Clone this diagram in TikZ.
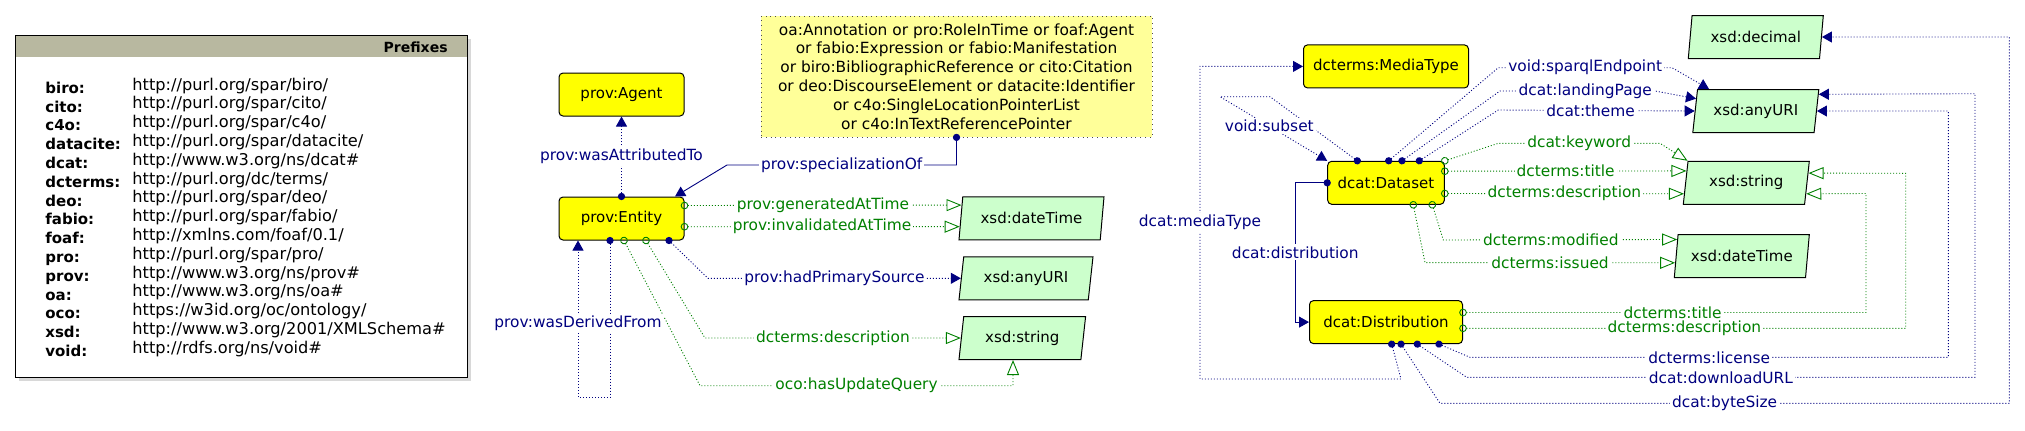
\documentclass[tikz,border=0pt]{standalone}
\usepackage{fontspec}
\setmainfont{DejaVu Sans}
\usepackage{xcolor}
\usepackage{tikz}
\usetikzlibrary{arrows.meta,positioning,shapes.geometric,calc,shadows}

\definecolor{propblue}{HTML}{000080}
\definecolor{propgreen}{HTML}{008000}
\definecolor{classyellow}{HTML}{FFFF00}
\definecolor{literalgreen}{HTML}{CCFFCC}
\definecolor{noteyellow}{HTML}{FFFF99}
\definecolor{headkhaki}{HTML}{B8B8A0}

\newcommand{\pfxrow}[2]{{\fontsize{7.5}{9.4}\selectfont\bfseries #1:} & \raisebox{1.6pt}[0pt][0pt]{#2}\\}

\begin{document}
\begin{tikzpicture}[x=0.5pt, y=-0.5pt,
  font=\fontsize{7.5}{9.45}\selectfont,
  cls/.style ={draw, line width=0.5pt, fill=classyellow, rounded corners=2pt,
               minimum height=21.5pt, inner sep=0pt},
  lit/.style ={draw, line width=0.5pt, fill=literalgreen, trapezium,
               trapezium left angle=72, trapezium right angle=108,
               trapezium stretches body, minimum height=21.5pt, inner sep=0pt},
  note/.style={draw=black!70, dotted, fill=noteyellow, align=center,
               font=\fontsize{7.7}{9.45}\selectfont,
               minimum width=195.5pt, minimum height=60.5pt},
  obj/.style ={propblue, line width=0.45pt, dash pattern=on 0.5pt off 1pt,
               {Circle[length=3.6pt]}-{Triangle[length=5pt,width=5.5pt]},
               shorten <=-1.8pt},
  objsolid/.style={obj, solid},
  dat/.style ={propgreen, line width=0.45pt, dash pattern=on 0.5pt off 1pt,
               {Circle[open,length=3.8pt]}-{Triangle[open,length=7.5pt,width=6pt]},
               shorten <=-1.9pt},
  olbl/.style={text=propblue, fill=white, inner sep=1pt, font=\fontsize{7.7}{9}\selectfont},
  dlbl/.style={text=propgreen, fill=white, inner sep=1pt, font=\fontsize{7.7}{9}\selectfont}]
\useasboundingbox (0,0) rectangle (2025,430);

% prefixes
\node[draw, line width=0.5pt, fill=white, minimum width=226pt, minimum height=171pt,
      drop shadow={shadow xshift=2pt, shadow yshift=-2pt, fill=black!30},
      path picture={\fill[headkhaki] (path picture bounding box.north west)
        rectangle ([yshift=-11pt]path picture bounding box.north east);}]
  (prefixes) at (241,206) {};
\node[anchor=east, inner sep=0pt, font=\fontsize{7}{8}\selectfont\bfseries] (prefhead) at (448,47) {Prefixes};
\node[anchor=base west, inner sep=0pt, font=\fontsize{8.1}{9.4}\selectfont] (preflist) at (45,93.3) {%
  \begin{tabular}[t]{@{}p{43.5pt}@{}l@{}}
  \pfxrow{biro}{http://purl.org/spar/biro/}
  \pfxrow{cito}{http://purl.org/spar/cito/}
  \pfxrow{c4o}{http://purl.org/spar/c4o/}
  \pfxrow{datacite}{http://purl.org/spar/datacite/}
  \pfxrow{dcat}{http://www.w3.org/ns/dcat\#}
  \pfxrow{dcterms}{http://purl.org/dc/terms/}
  \pfxrow{deo}{http://purl.org/spar/deo/}
  \pfxrow{fabio}{http://purl.org/spar/fabio/}
  \pfxrow{foaf}{http://xmlns.com/foaf/0.1/}
  \pfxrow{pro}{http://purl.org/spar/pro/}
  \pfxrow{prov}{http://www.w3.org/ns/prov\#}
  \pfxrow{oa}{http://www.w3.org/ns/oa\#}
  \pfxrow{oco}{https://w3id.org/oc/ontology/}
  \pfxrow{xsd}{http://www.w3.org/2001/XMLSchema\#}
  \pfxrow{void}{http://rdfs.org/ns/void\#}
  \end{tabular}};

% entity side
\node[cls, minimum width=62.5pt] (entity) at (621.5,218.5) {prov:Entity};
\node[cls, minimum width=62.5pt, above=40pt of entity] (agent) {prov:Agent};
\node[note] (note) at (956.5,76.5) {oa:Annotation or pro:RoleInTime or foaf:Agent\\
  or fabio:Expression or fabio:Manifestation\\
  or biro:BibliographicReference or cito:Citation\\
  or deo:DiscourseElement or datacite:Identifier\\
  or c4o:SingleLocationPointerList\\
  or c4o:InTextReferencePointer};
\node[lit, minimum width=72.5pt] (dtleft) at (1031.5,218.3) {xsd:dateTime};
\node[lit, minimum width=67pt] (urileft) at (1026,278.3) {xsd:anyURI};
\node[lit, minimum width=63.3pt] (strleft) at (1022.3,338) {xsd:string};

% dataset side
\node[cls, minimum width=58.3pt] (dataset) at (1386,182.8) {dcat:Dataset};
\node[cls, minimum width=82.5pt, above=36.2pt of dataset] (mediatype) {dcterms:MediaType};
\node[cls, minimum width=76.5pt, below=47.65pt of dataset] (distribution) {dcat:Distribution};
\node[lit, minimum width=67.5pt] (decimal) at (1755.8,37) {xsd:decimal};
\node[lit, minimum width=63pt, below=15pt of decimal] (uriright) {xsd:anyURI};
\node[lit, minimum width=63pt] (stringright) at (1746.3,182.8) {xsd:string};
\node[lit, minimum width=67.5pt] (dtright) at (1741.8,256.2) {xsd:dateTime};

% prov properties
\draw[obj] (entity.north) -- node[olbl] (lattr) {prov:wasAttributedTo} (agent.south);
\draw[objsolid] (note.south) -- (note.south |- 0,165) -- node[olbl] (lspec) {prov:specializationOf} (727,165) -- (entity.north -| 675,0);
\draw[dat] (entity.east |- 0,205.5) -- node[dlbl] (lgen) {prov:generatedAtTime} ($(dtleft.bottom left corner)!0.8!(dtleft.top left corner)$);
\draw[dat] (entity.east |- 0,226.7) -- node[dlbl] (linv) {prov:invalidatedAtTime} ($(dtleft.bottom left corner)!0.31!(dtleft.top left corner)$);
\draw[obj] (entity.south -| 669,0) -- (708,278.3) -- node[olbl] (lprim) {prov:hadPrimarySource} (urileft.west);
\draw[dat] (entity.south -| 646,0) -- (705,338) -- node[dlbl] (ldesc) {dcterms:description} (strleft.west);
\draw[dat] (entity.south -| 624,0) -- (700,385.7) -- node[dlbl] (lupd) {oco:hasUpdateQuery} (1013,385.7) -- (strleft.south -| 1013,0);
\draw[obj] (entity.south -| 610,0) -- (610,397.3) -- (578,397.3) -- node[olbl, pos=0.47] (lder) {prov:wasDerivedFrom} (entity.south -| 578,0);

% dcat properties
\draw[obj] (dataset.north -| 1357.3,0) -- (1270,96.7) -- (1220,96.7) -- node[olbl, pos=0.46] (lsub) {void:subset} (dataset.north west);
\draw[objsolid] (dataset.west) -- (1295.3,0 |- dataset.west) -- node[olbl] (ldist) {dcat:distribution} (1295.3,0 |- distribution.west) -- (distribution.west);
\draw[obj] (distribution.south -| 1391.7,0) -- (1401,379) -- (1200,379) -- node[olbl] (lmedia) {dcat:mediaType} (1200,0 |- mediatype.west) -- (mediatype.west);
\draw[obj] (dataset.north -| 1388.7,0) -- (1498.3,67.7) -- node[olbl] (lsparql) {void:sparqlEndpoint} (1672,67.7) -- (uriright.north -| 1709,0);
\draw[obj] (dataset.north -| 1402,0) -- (1500,91) -- node[olbl, pos=0.55] (lland) {dcat:landingPage} (1655,91) -- ($(uriright.bottom left corner)!0.78!(uriright.top left corner)$);
\draw[obj] (dataset.north -| 1419.3,0) -- (1498.3,110) -- node[olbl, pos=0.47] (ltheme) {dcat:theme} (uriright.west);
\draw[dat] (dataset.north east) -- (1498.3,143.3) -- node[dlbl] (lkey) {dcat:keyword} (1660,143.3) -- (stringright.top left corner);
\draw[dat] (dataset.east |- 0,171.2) -- node[dlbl] (ltitle) {dcterms:title} ($(stringright.bottom left corner)!0.77!(stringright.top left corner)$);
\draw[dat] (dataset.east |- 0,193.5) -- node[dlbl] (ldescr) {dcterms:description} ($(stringright.bottom left corner)!0.25!(stringright.top left corner)$);
\draw[dat] (dataset.south -| 1432.3,0) -- (1443.3,240) -- node[dlbl, pos=0.46] (lmod) {dcterms:modified} ($(dtright.bottom left corner)!0.88!(dtright.top left corner)$);
\draw[dat] (dataset.south -| 1413.3,0) -- (1425,262.6) -- node[dlbl] (liss) {dcterms:issued} ($(dtright.bottom left corner)!0.35!(dtright.top left corner)$);
\draw[dat] (distribution.east |- 0,312.5) -- node[dlbl, pos=0.52] (ldtitle) {dcterms:title} (1866,312.5) -- (1866,193.5) -- ($(stringright.bottom right corner)!0.25!(stringright.top right corner)$);
\draw[dat] (distribution.east |- 0,328.3) -- node[dlbl] (lddesc) {dcterms:description} (1905.7,328.3) -- (1905.7,173.3) -- ($(stringright.bottom right corner)!0.72!(stringright.top right corner)$);
\draw[obj] (distribution.south -| 1439,0) -- (1470,357.3) -- node[olbl] (llic) {dcterms:license} (1948.3,357.3) -- (1948.3,0 |- uriright.east) -- (uriright.east);
\draw[obj] (distribution.south -| 1417.3,0) -- (1466.7,377.3) -- node[olbl] (ldown) {dcat:downloadURL} (1975,377.3) -- (1975,93.7) -- ($(uriright.bottom right corner)!0.88!(uriright.top right corner)$);
\draw[obj] (distribution.south -| 1401,0) -- (1440,403.3) -- node[olbl] (lbyte) {dcat:byteSize} (2009.3,403.3) -- (2009.3,0 |- decimal.east) -- (decimal.east);
\end{tikzpicture}
\end{document}
